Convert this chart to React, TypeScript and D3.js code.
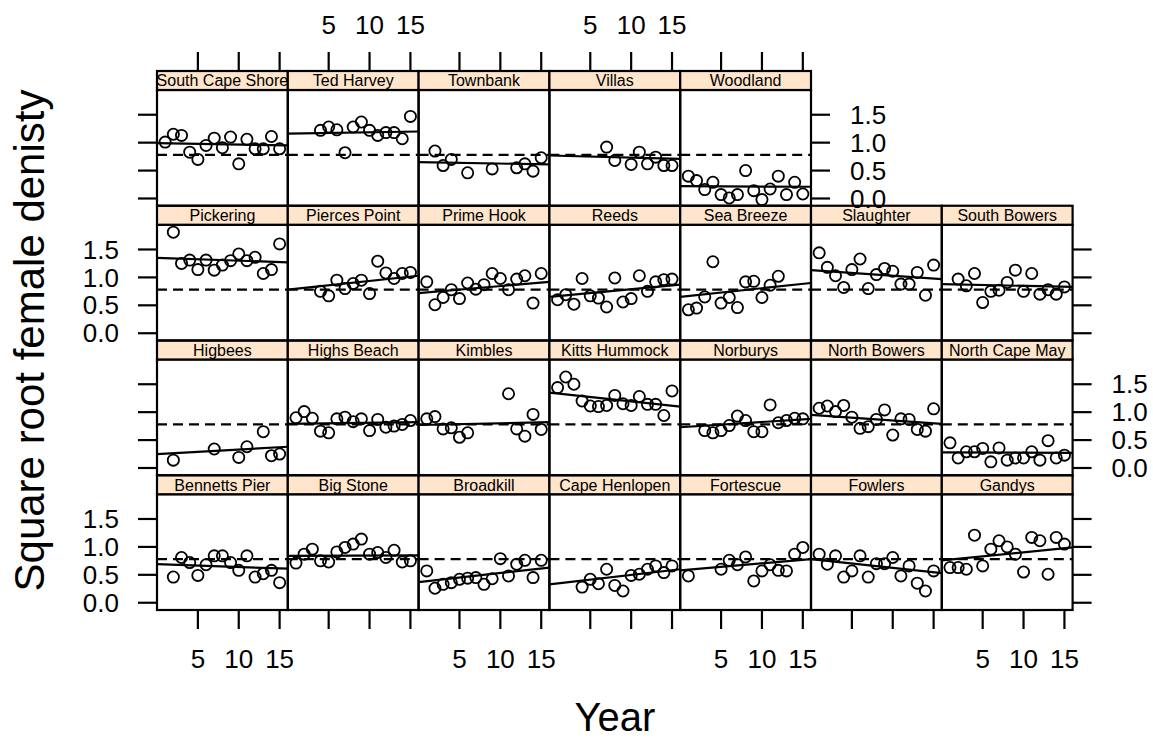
import * as d3 from 'd3';
import React from 'react';

const W = 1153;
const H = 739;
const left = 157;
const top = 71;
const colW = 130.8;
const rowH = 134.75;
const stripH = 19;
const nCol = 7;
const nRow = 4;
const font = '"Liberation Sans", Arial, sans-serif';
const stripFill = '#ffe5cc';

// panels in lattice order (bottom-left first, left to right, then up)
const siteNames = [
  'Bennetts Pier', 'Big Stone', 'Broadkill', 'Cape Henlopen', 'Fortescue', 'Fowlers', 'Gandys',
  'Higbees', 'Highs Beach', 'Kimbles', 'Kitts Hummock', 'Norburys', 'North Bowers', 'North Cape May',
  'Pickering', 'Pierces Point', 'Prime Hook', 'Reeds', 'Sea Breeze', 'Slaughter', 'South Bowers',
  'South Cape Shore', 'Ted Harvey', 'Townbank', 'Villas', 'Woodland',
];

const yrs = (a: number, b: number) => d3.range(a, b + 1);

const siteYears = [
  yrs(2, 15), yrs(1, 15), yrs(1, 15), yrs(4, 15), [1, 5, 6, 7, 8, 9, 10, 11, 12, 13, 14, 15], yrs(1, 15), yrs(1, 15),
  [2, 7, 10, 11, 13, 14, 15], yrs(1, 15), [1, 2, 3, 4, 5, 6, 11, 12, 13, 14, 15], yrs(1, 15), yrs(3, 15), yrs(1, 15), yrs(1, 15),
  yrs(2, 15), yrs(4, 15), yrs(1, 15), yrs(1, 15), yrs(1, 12), yrs(1, 15), yrs(2, 15),
  yrs(1, 15), yrs(4, 15), [2, 3, 4, 6, 9, 12, 13, 14, 15], [7, 8, 10, 11, 12, 13, 14, 15], yrs(1, 15),
];

const siteValues = [
  [0.46, 0.81, 0.72, 0.49, 0.68, 0.84, 0.84, 0.72, 0.58, 0.84, 0.46, 0.52, 0.58, 0.36],
  [0.71, 0.87, 0.96, 0.75, 0.73, 0.91, 0.99, 1.05, 1.14, 0.87, 0.9, 0.81, 0.94, 0.73, 0.75],
  [0.57, 0.26, 0.33, 0.36, 0.42, 0.44, 0.45, 0.33, 0.43, 0.79, 0.48, 0.69, 0.76, 0.45, 0.76],
  [0.28, 0.42, 0.34, 0.6, 0.31, 0.21, 0.49, 0.51, 0.6, 0.66, 0.54, 0.66],
  [0.48, 0.6, 0.76, 0.68, 0.82, 0.39, 0.57, 0.68, 0.58, 0.57, 0.87, 0.99],
  [0.87, 0.69, 0.84, 0.46, 0.57, 0.84, 0.46, 0.7, 0.7, 0.81, 0.48, 0.66, 0.35, 0.21, 0.57],
  [0.63, 0.63, 0.6, 1.21, 0.66, 0.96, 1.11, 1.0, 0.87, 0.55, 1.17, 1.11, 0.51, 1.17, 1.05],
  [0.14, 0.34, 0.19, 0.38, 0.65, 0.22, 0.25],
  [0.9, 1.01, 0.89, 0.66, 0.63, 0.88, 0.91, 0.83, 0.88, 0.67, 0.87, 0.73, 0.75, 0.78, 0.85],
  [0.88, 0.92, 0.7, 0.72, 0.55, 0.63, 1.33, 0.7, 0.57, 0.96, 0.69],
  [1.44, 1.63, 1.5, 1.2, 1.11, 1.1, 1.12, 1.3, 1.15, 1.12, 1.28, 1.14, 1.14, 0.94, 1.38],
  [0.67, 0.63, 0.67, 0.76, 0.93, 0.85, 0.65, 0.65, 1.13, 0.81, 0.85, 0.89, 0.88],
  [1.07, 1.11, 1.01, 1.12, 0.91, 0.71, 0.74, 0.87, 1.04, 0.59, 0.88, 0.87, 0.69, 0.66, 1.06],
  [0.45, 0.18, 0.29, 0.29, 0.35, 0.11, 0.36, 0.14, 0.18, 0.18, 0.29, 0.14, 0.49, 0.18, 0.23],
  [1.81, 1.25, 1.31, 1.14, 1.31, 1.13, 1.22, 1.3, 1.42, 1.3, 1.36, 1.07, 1.14, 1.6],
  [0.75, 0.67, 0.95, 0.8, 0.89, 0.95, 0.71, 1.29, 1.08, 0.98, 1.07, 1.09],
  [0.92, 0.51, 0.64, 0.78, 0.62, 0.9, 0.79, 0.87, 1.07, 0.98, 0.78, 0.97, 1.03, 0.54, 1.07],
  [0.6, 0.69, 0.52, 0.98, 0.67, 0.63, 0.47, 0.99, 0.56, 0.62, 1.03, 0.75, 0.92, 0.96, 0.97],
  [0.42, 0.45, 0.65, 1.28, 0.54, 0.64, 0.46, 0.92, 0.93, 0.64, 0.86, 1.02],
  [1.44, 1.18, 1.03, 0.82, 1.14, 1.33, 0.8, 1.05, 1.16, 1.11, 0.88, 0.88, 1.09, 0.68, 1.22],
  [0.97, 0.85, 1.07, 0.55, 0.75, 0.77, 0.91, 1.13, 0.75, 1.07, 0.7, 0.78, 0.7, 0.83],
  [1.01, 1.15, 1.13, 0.83, 0.7, 0.95, 1.08, 0.91, 1.1, 0.62, 1.06, 0.89, 0.89, 1.11, 0.89],
  [1.22, 1.28, 1.23, 0.82, 1.28, 1.37, 1.22, 1.13, 1.18, 1.18, 1.07, 1.47],
  [0.85, 0.59, 0.7, 0.46, 0.53, 0.55, 0.62, 0.49, 0.73],
  [0.92, 0.68, 0.61, 0.83, 0.62, 0.74, 0.59, 0.59],
  [0.4, 0.32, 0.16, 0.29, 0.07, 0.01, 0.07, 0.5, 0.14, -0.02, 0.17, 0.4, 0.07, 0.29, 0.08],
];

// site-level fitted line, value at the left (year 0) and right (year 16) panel edges
const fitLeft = [0.69, 0.84, 0.37, 0.33, 0.58, 0.78, 0.76, 0.25, 0.79, 0.77, 1.35, 0.73, 0.95, 0.28,
  1.35, 0.78, 0.72, 0.65, 0.65, 1.13, 0.88, 0.99, 1.16, 0.65, 0.77, 0.22];
const fitRight = [0.61, 0.85, 0.63, 0.6, 0.78, 0.53, 0.99, 0.38, 0.82, 0.82, 1.1, 0.88, 0.79, 0.27,
  1.27, 1.03, 0.92, 0.87, 0.9, 0.97, 0.83, 0.95, 1.2, 0.61, 0.71, 0.21];

// population-level line (dashed)
const popLine = 0.78;

const xTicks = [5, 10, 15];
const yTicks = [0, 0.5, 1, 1.5];
const xDomain = [0, 16];
const yDomain = [-0.13, 1.943];

const tickLen = 19;
const tickFont = 26;

const App = () => {
  const colX = (c: number) => left + c * colW;
  const rowTop = (r: number) => top + r * rowH; // r = 0 is top row
  const bottomEdge = top + nRow * rowH;
  const rightEdge = left + nCol * colW;

  const panels = siteNames.map((name, i) => {
    const col = i % nCol;
    const rowFromBottom = Math.floor(i / nCol);
    const r = nRow - 1 - rowFromBottom;
    const x0 = colX(col);
    const sTop = rowTop(r);
    const bTop = sTop + stripH;
    const bBot = sTop + rowH;
    const xs = d3.scaleLinear().domain(xDomain).range([x0, x0 + colW]);
    const ys = d3.scaleLinear().domain(yDomain).range([bBot, bTop]);
    const pts = siteYears[i].map((yr, k) => [yr, siteValues[i][k]]);
    const fit = d3.line<number[]>().x(d => xs(d[0])).y(d => ys(d[1]))([[xDomain[0], fitLeft[i]], [xDomain[1], fitRight[i]]]);
    return (
      <g key={name}>
        <clipPath id={`clip${i}`}>
          <rect x={x0} y={bTop} width={colW} height={bBot - bTop} />
        </clipPath>
        <g clipPath={`url(#clip${i})`}>
          <line x1={x0} x2={x0 + colW} y1={ys(popLine)} y2={ys(popLine)} stroke="#000" strokeWidth={2.2} strokeDasharray="10,6" />
          <path d={fit || ''} stroke="#000" strokeWidth={2.2} fill="none" />
        </g>
        {pts.map((p, k) => (
          <circle key={k} cx={xs(p[0])} cy={ys(p[1])} r={5.6} fill="none" stroke="#000" strokeWidth={1.8} />
        ))}
        <rect x={x0} y={bTop} width={colW} height={bBot - bTop} fill="none" stroke="#000" strokeWidth={2.2} />
        <rect x={x0} y={sTop} width={colW} height={stripH} fill={stripFill} stroke="#000" strokeWidth={2.2} />
        <text x={x0 + colW / 2} y={sTop + stripH / 2 + 5.8} textAnchor="middle" fontSize={16} fontFamily={font}>{name}</text>
      </g>
    );
  });

  // axes
  const axes: JSX.Element[] = [];
  const xs0 = d3.scaleLinear().domain(xDomain).range([0, colW]);
  for (let c = 0; c < nCol; c++) {
    const x0 = colX(c);
    // bottom
    xTicks.forEach(t => {
      const x = x0 + xs0(t);
      axes.push(<line key={`b${c}-${t}`} x1={x} x2={x} y1={bottomEdge} y2={bottomEdge + tickLen} stroke="#000" strokeWidth={2.2} />);
      if (c % 2 === 0) {
        axes.push(<text key={`bl${c}-${t}`} x={x} y={bottomEdge + 58} textAnchor="middle" fontSize={tickFont} fontFamily={font}>{t}</text>);
      }
    });
    // top (only where the top row has panels)
    if (c < 5) {
      xTicks.forEach(t => {
        const x = x0 + xs0(t);
        axes.push(<line key={`t${c}-${t}`} x1={x} x2={x} y1={top} y2={top - tickLen} stroke="#000" strokeWidth={2.2} />);
        if (c % 2 === 1) {
          axes.push(<text key={`tl${c}-${t}`} x={x} y={top - 37} textAnchor="middle" fontSize={tickFont} fontFamily={font}>{t}</text>);
        }
      });
    }
  }
  for (let r = 0; r < nRow; r++) {
    const bTop = rowTop(r) + stripH;
    const bBot = rowTop(r) + rowH;
    const ys = d3.scaleLinear().domain(yDomain).range([bBot, bTop]);
    const rEdge = r === 0 ? colX(5) : rightEdge;
    yTicks.forEach(t => {
      const y = ys(t);
      axes.push(<line key={`l${r}-${t}`} x1={left - tickLen} x2={left} y1={y} y2={y} stroke="#000" strokeWidth={2.2} />);
      axes.push(<line key={`r${r}-${t}`} x1={rEdge} x2={rEdge + tickLen} y1={y} y2={y} stroke="#000" strokeWidth={2.2} />);
      const label = d3.format('.1f')(t);
      if (r % 2 === 1) {
        axes.push(<text key={`ll${r}-${t}`} x={left - tickLen - 19} y={y} dy="0.35em" textAnchor="end" fontSize={tickFont} fontFamily={font}>{label}</text>);
      } else {
        axes.push(<text key={`rl${r}-${t}`} x={rEdge + tickLen + 20} y={y} dy="0.35em" textAnchor="start" fontSize={tickFont} fontFamily={font}>{label}</text>);
      }
    });
  }

  return (
    <div style={{ position: 'absolute', left: 0, top: 0 }}>
      <svg width={W} height={H} style={{ display: 'block', background: '#fff' }}>
        {panels}
        {axes}
        <text x={(left + rightEdge) / 2} y={731} textAnchor="middle" fontSize={40} fontFamily={font}>Year</text>
        <text transform={`translate(44, ${(top + bottomEdge) / 2}) rotate(-90)`} textAnchor="middle" fontSize={42} fontFamily={font}>
          Square root female denisty
        </text>
      </svg>
    </div>
  );
};

export default App;
